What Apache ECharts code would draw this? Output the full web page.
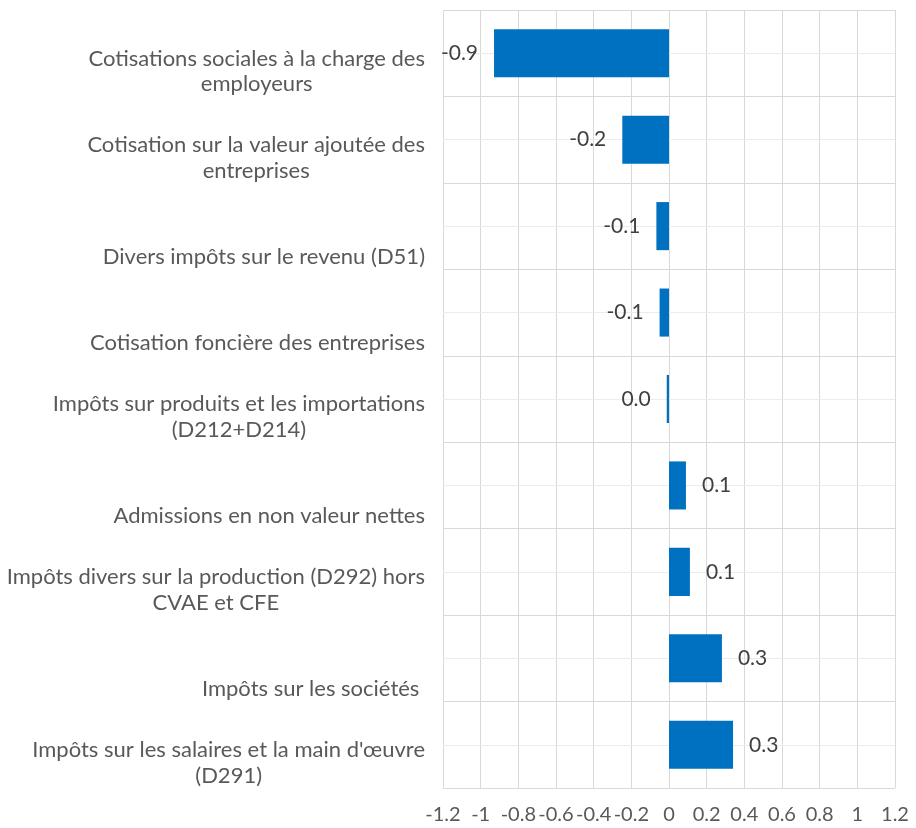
<!DOCTYPE html>
<html>
<head>
<meta charset="utf-8">
<script src="https://cdn.jsdelivr.net/npm/echarts@6/dist/echarts.min.js"></script>
<style>
  html, body { margin: 0; padding: 0; background: #ffffff; }
  #chart { width: 916px; height: 828px; }
</style>
</head>
<body>
<div id="chart"></div>
<script>
// Tax items (top to bottom) and their contribution, in points
const categories = [
  "Cotisations sociales à la charge des\nemployeurs",
  "Cotisation sur la valeur ajoutée des\nentreprises",
  "Divers impôts sur le revenu (D51)",
  "Cotisation foncière des entreprises",
  "Impôts sur produits et les importations\n(D212+D214)",
  "Admissions en non valeur nettes",
  "Impôts divers sur la production (D292) hors\nCVAE et CFE",
  "Impôts sur les sociétés ",
  "Impôts sur les salaires et la main d'œuvre\n(D291)"
];
const values = [-0.929, -0.248, -0.067, -0.05, -0.012, 0.09, 0.111, 0.281, 0.34];

// Value axis range and step
const axisMin = -1.2;
const axisMax = 1.2;
const axisStep = 0.2;

const FONT = 'Lato';
const chart = echarts.init(document.getElementById('chart'), null, { renderer: 'canvas' });

function fmtLabel(v) {
  let s = v.toFixed(1);
  if (s === '-0.0') s = '0.0';
  return s;
}

chart.setOption({
  animation: false,
  backgroundColor: '#ffffff',
  textStyle: { fontFamily: FONT },
  grid: { left: 443, right: 21, top: 10, bottom: 40, containLabel: false },
  xAxis: {
    type: 'value',
    min: axisMin,
    max: axisMax,
    interval: axisStep,
    axisLine: { show: false },
    axisTick: { show: false },
    splitLine: { show: true, lineStyle: { color: '#d9d9d9', width: 1 } },
    axisLabel: {
      color: '#595959',
      fontSize: 20,
      fontFamily: FONT,
      margin: 17,
      formatter: v => String(parseFloat(v.toFixed(1)))
    }
  },
  yAxis: {
    type: 'category',
    inverse: true,
    data: categories,
    axisLine: { show: false },
    axisTick: { show: false },
    splitLine: { show: true, lineStyle: { color: '#d9d9d9', width: 1 } },
    axisLabel: {
      interval: 0,
      margin: 18,
      color: '#595959',
      fontFamily: FONT,
      formatter: name => {
        const lines = name.split('\n');
        const body = lines.map(l => '{t|' + l + '}').join('\n');
        return '{sp| }\n' + (lines.length === 1 ? '{t| }\n' : '') + body;
      },
      rich: {
        sp: { fontSize: 2, lineHeight: 36 },
        t: { fontSize: 22, lineHeight: 25.5, color: '#595959', fontFamily: FONT, align: 'center' }
      }
    }
  },
  series: [
    {
      // light guide line through the middle of each row
      type: 'line',
      data: [],
      z: 1,
      silent: true,
      markLine: {
        silent: true,
        z: 1,
        symbol: 'none',
        animation: false,
        label: { show: false },
        lineStyle: { color: '#ececec', width: 1, type: 'solid' },
        data: categories.map((c, i) => ({ yAxis: i }))
      }
    },
    {
      type: 'bar',
      data: values,
      z: 3,
      barCategoryGap: '44.4%',
      itemStyle: { color: '#0070C0' },
      label: {
        show: true,
        position: 'outside',
        distance: 16,
        color: '#404040',
        fontSize: 21,
        fontFamily: FONT,
        formatter: p => fmtLabel(p.value)
      }
    }
  ]
});
</script>
</body>
</html>
